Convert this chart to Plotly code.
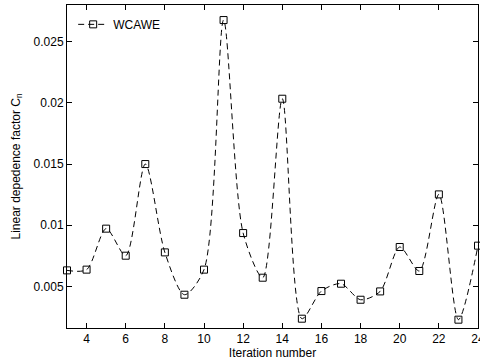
import plotly.graph_objects as go

iterations = list(range(3, 25))
cn_values = [0.00631, 0.00637, 0.00972, 0.00751, 0.0150, 0.00778, 0.00432, 0.00637,
             0.02677, 0.00936, 0.00571, 0.02034, 0.00236, 0.00462, 0.00522, 0.00391,
             0.00459, 0.00822, 0.00626, 0.01252, 0.00228, 0.00833]
x_ticks = [4, 6, 8, 10, 12, 14, 16, 18, 20, 22, 24]
y_ticks = [0.005, 0.01, 0.015, 0.02, 0.025]
y_tick_labels = ["0.005", "0.01", "0.015", "0.02", "0.025"]

fig = go.Figure()
fig.add_trace(go.Scatter(
    x=iterations, y=cn_values, mode="lines+markers", name="WCAWE",
    line=dict(color="black", width=1, dash="6px,4px", shape="spline", smoothing=0.8),
    marker=dict(symbol="square-open", size=7, color="black", line=dict(width=1, color="black")),
    cliponaxis=False,
))

font = dict(family="Liberation Sans, Arial, sans-serif", size=12, color="black")
axis_common = dict(showline=True, linecolor="black", linewidth=1, mirror="ticks",
                   ticks="inside", ticklen=5, tickcolor="black", showgrid=False,
                   zeroline=False, tickfont=font, automargin=False,
                   ticklabeloverflow="allow")
fig.update_xaxes(range=[3, 24], tickvals=x_ticks, title=dict(text="Iteration number", font=font, standoff=2),
                 **axis_common)
fig.update_yaxes(range=[0.0016, 0.028], tickvals=y_ticks, ticktext=y_tick_labels,
                 title=dict(text="Linear depedence factor C<sub>n</sub>", font=font, standoff=10),
                 **axis_common)
fig.update_layout(
    width=480, height=364, margin=dict(l=67, r=2, t=5, b=36),
    paper_bgcolor="white", plot_bgcolor="white", font=font,
    showlegend=True,
    legend=dict(x=0.015, y=0.985, xanchor="left", yanchor="top", bgcolor="rgba(0,0,0,0)",
                font=font, borderwidth=0),
)
fig.write_html("out.html", config={"displayModeBar": False},
               post_script="document.body.style.margin='0';")
